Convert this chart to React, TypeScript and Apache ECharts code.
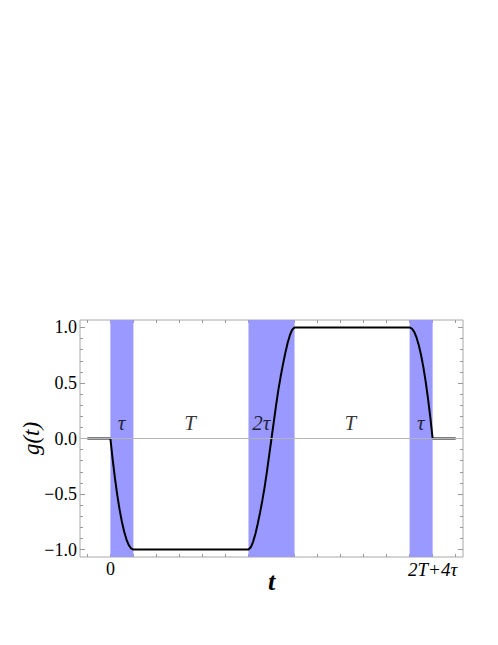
import React, { useEffect, useRef } from 'react';
import * as echarts from 'echarts';

// curve g(t), values
const tValues = [
  -1, 0, 0.1, 0.2, 0.3, 0.4, 0.5, 0.6, 0.7, 0.8, 0.9, 1,
  6, 6.1, 6.2, 6.3, 6.4, 6.5, 6.6, 6.7, 6.8, 6.9, 7,
  7.1, 7.2, 7.3, 7.4, 7.5, 7.6, 7.7, 7.8, 7.9, 8,
  13, 13.1, 13.2, 13.3, 13.4, 13.5, 13.6, 13.7, 13.8, 13.9, 14, 15,
];
const gValues = [
  0, 0, -0.19, -0.36, -0.51, -0.64, -0.75, -0.84, -0.91, -0.96, -0.99, -1,
  -1, -0.98, -0.93, -0.86, -0.77, -0.67, -0.56, -0.44, -0.3, -0.15, 0,
  0.15, 0.3, 0.44, 0.56, 0.67, 0.77, 0.86, 0.93, 0.98, 1,
  1, 0.99, 0.96, 0.91, 0.84, 0.75, 0.64, 0.51, 0.36, 0.19, 0, 0,
];

// shaded intervals
const bandStarts = [0, 6, 13];
const bandEnds = [1, 8, 14];

// region labels
const regionLabels = ['τ', 'T', '2τ', 'T', 'τ'];
const regionLabelX = [0.48, 3.46, 6.56, 10.43, 13.48];
const regionLabelY = [0.14, 0.14, 0.14, 0.14, 0.14];

// ticks
const xTickValues = [-1, 0, 1, 2, 3, 4, 5, 6, 7, 8, 9, 10, 11, 12, 13, 14, 15];
const xLabelValues = [0, 14];
const xLabelTexts = ['0', '{i|2T+4τ}'];
const yMajorTicks = [-1, -0.5, 0, 0.5, 1];
const yMinorTicks = [
  -1, -0.9, -0.8, -0.7, -0.6, -0.5, -0.4, -0.3, -0.2, -0.1, 0,
  0.1, 0.2, 0.3, 0.4, 0.5, 0.6, 0.7, 0.8, 0.9, 1,
];

const SERIF = 'Liberation Serif, DejaVu Serif, serif';
const X_MIN = -1.32;
const X_MAX = 15.32;
const Y_MIN = -1.067;
const Y_MAX = 1.067;
const TICK_COLOR = '#9a9a9a';

export default function App() {
  const ref = useRef<HTMLDivElement>(null);

  useEffect(() => {
    if (!ref.current) return;
    const chart = echarts.init(ref.current, null, { renderer: 'svg' });

    const xBase = (position: 'top' | 'bottom') => ({
      type: 'value',
      position,
      min: X_MIN,
      max: X_MAX,
      axisLine: { show: false, onZero: false },
      splitLine: { show: false },
      axisTick: {
        show: true,
        inside: true,
        length: 3,
        customValues: xTickValues,
        lineStyle: { color: TICK_COLOR, width: 1 },
      },
    });

    const yBase = (position: 'left' | 'right', major: boolean) => ({
      type: 'value',
      position,
      min: Y_MIN,
      max: Y_MAX,
      axisLine: { show: false, onZero: false },
      splitLine: { show: false },
      axisTick: {
        show: true,
        inside: true,
        length: major ? 5 : 3,
        customValues: major ? yMajorTicks : yMinorTicks,
        lineStyle: { color: TICK_COLOR, width: 1 },
      },
      axisLabel: { show: false },
    });

    const option = {
      animation: false,
      backgroundColor: '#ffffff',
      textStyle: { fontFamily: SERIF },
      grid: {
        left: 80,
        top: 320,
        width: 383,
        height: 237,
        show: true,
        borderColor: '#a8a8a8',
        borderWidth: 1,
        backgroundColor: 'transparent',
      },
      xAxis: [
        {
          ...xBase('bottom'),
          axisLabel: {
            show: true,
            customValues: xLabelValues,
            formatter: (v: number) => {
              const i = xLabelValues.indexOf(Math.round(v));
              return i >= 0 ? xLabelTexts[i] : '';
            },
            fontFamily: SERIF,
            fontSize: 18,
            color: '#000',
            margin: 3,
            rich: {
              i: { fontFamily: SERIF, fontStyle: 'italic', fontSize: 19, color: '#000' },
            },
          },
          name: 't',
          nameLocation: 'middle',
          nameGap: 11,
          nameMoveOverlap: false,
          nameTextStyle: {
            fontFamily: SERIF,
            fontStyle: 'italic',
            fontWeight: 'bold',
            fontSize: 26,
            color: '#000',
          },
        },
        { ...xBase('top'), axisLabel: { show: false } },
      ],
      yAxis: [
        {
          ...yBase('left', true),
          axisLabel: {
            show: true,
            customValues: yMajorTicks,
            formatter: (v: number) => v.toFixed(1).replace('-', '\u2212'),
            fontFamily: SERIF,
            fontSize: 18,
            color: '#000',
            margin: 3,
          },
          name: 'g(t)',
          nameLocation: 'middle',
          nameRotate: 90,
          nameGap: 37,
          nameMoveOverlap: false,
          nameTextStyle: {
            fontFamily: SERIF,
            fontStyle: 'italic',
            fontSize: 23,
            color: '#000',
          },
        },
        yBase('left', false),
        yBase('right', true),
        yBase('right', false),
      ],
      series: [
        {
          type: 'line',
          xAxisIndex: 0,
          yAxisIndex: 0,
          data: [],
          z: 1,
          silent: true,
          markArea: {
            silent: true,
            itemStyle: { color: 'rgb(153,153,255)', opacity: 1 },
            label: { show: false },
            data: bandStarts.map((s, i) => [{ xAxis: s }, { xAxis: bandEnds[i] }]),
          },
          markLine: {
            silent: true,
            symbol: ['none', 'none'],
            label: { show: false },
            lineStyle: { color: '#b4b4b4', type: 'solid', width: 1 },
            data: [{ yAxis: 0 }],
          },
        },
        {
          type: 'line',
          xAxisIndex: 0,
          yAxisIndex: 0,
          data: tValues.map((t, i) => [t, gValues[i]]),
          showSymbol: false,
          symbol: 'none',
          lineStyle: { color: '#000', width: 2 },
          z: 3,
          silent: true,
        },
        {
          type: 'scatter',
          xAxisIndex: 0,
          yAxisIndex: 0,
          symbolSize: 0,
          z: 4,
          silent: true,
          data: regionLabels.map((s, i) => ({ name: s, value: [regionLabelX[i], regionLabelY[i]] })),
          label: {
            show: true,
            position: 'inside',
            formatter: '{b}',
            fontFamily: SERIF,
            fontStyle: 'italic',
            fontSize: 21,
            color: '#000',
          },
        },
      ],
    };

    chart.setOption(option as any);
    return () => chart.dispose();
  }, []);

  return (
    <div
      ref={ref}
      style={{ position: 'fixed', left: 0, top: 0, width: 498, height: 645 }}
    />
  );
}
